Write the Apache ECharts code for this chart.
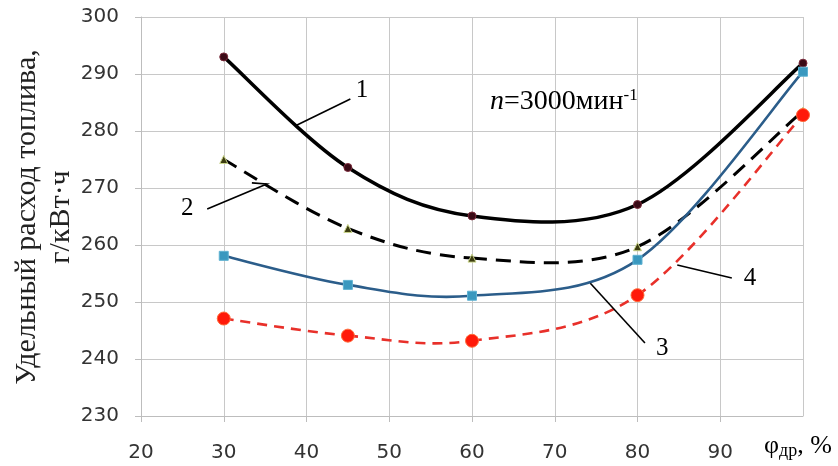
<!DOCTYPE html>
<html>
<head>
<meta charset="utf-8">
<script src="https://cdn.jsdelivr.net/npm/echarts@6/dist/echarts.min.js"></script>
<style>
  html, body { margin: 0; padding: 0; background: #fff; }
  #main { width: 838px; height: 466px; }
</style>
</head>
<body>
<div id="main"></div>
<script>
// throttle opening, %
var phi = [30, 45, 60, 80, 100];
// specific fuel consumption, g/kWh
var curve1 = [293, 273.6, 265.1, 267.1, 291.9];
var curve2 = [275, 262.9, 257.7, 259.7, 283.5];
var curve3 = [258.1, 253, 251.1, 257.4, 290.4];
var curve4 = [247.1, 244.1, 243.2, 251.2, 282.8];

var xTicks = [20, 30, 40, 50, 60, 70, 80, 90, 100];
var yTicks = [230, 240, 250, 260, 270, 280, 290, 300];

// curve labels: number, leader line (data coords), label position
var labels = [
  { text: '1', line: [[38.8, 281.0], [45.3, 285.6]], at: [46.7, 287.2] },
  { text: '2', line: [[28.0, 266.3], [35.2, 270.7], [33.4, 270.9]], at: [25.6, 266.5] },
  { text: '3', line: [[74.3, 253.3], [80.9, 242.8]], at: [83.0, 241.9] },
  { text: '4', line: [[84.8, 256.5], [91.4, 254.2]], at: [93.6, 254.2] }
];

function pairs(ys) {
  return phi.map(function (x, i) { return [x, ys[i]]; });
}

var serif = '"Liberation Serif", "Times New Roman", serif';

// smooth curve through the points (Excel-like cardinal spline),
// drawn once from the first item, using the axis scales
function smoothCurve(color, width, dash) {
  return function (params, api) {
    if (params.dataIndex !== 0) return null;
    var n = params.dataInsideLength;
    var pts = [];
    for (var i = 0; i < n; i++) {
      pts.push(api.coord([api.value(0, i), api.value(1, i)]));
    }
    var t = 1 / 6;
    var children = [];
    for (var k = 0; k < n - 1; k++) {
      var p0 = pts[Math.max(k - 1, 0)], p1 = pts[k], p2 = pts[k + 1], p3 = pts[Math.min(k + 2, n - 1)];
      children.push({
        type: 'bezierCurve',
        shape: {
          x1: p1[0], y1: p1[1], x2: p2[0], y2: p2[1],
          cpx1: p1[0] + (p2[0] - p0[0]) * t, cpy1: p1[1] + (p2[1] - p0[1]) * t,
          cpx2: p2[0] - (p3[0] - p1[0]) * t, cpy2: p2[1] - (p3[1] - p1[1]) * t
        },
        style: { stroke: color, lineWidth: width, fill: null, lineDash: dash || null }
      });
    }
    return { type: 'group', children: children };
  };
}

var axisFont = '"DejaVu Sans", sans-serif';

var chart = echarts.init(document.getElementById('main'));

var option = {
  animation: false,
  grid: { left: 141, right: 35, top: 17, bottom: 50 },
  xAxis: {
    type: 'value',
    min: xTicks[0],
    max: xTicks[xTicks.length - 1],
    interval: 10,
    axisLine: { show: true, lineStyle: { color: '#bdbdbd', width: 1 } },
    axisTick: { show: true, length: 6, lineStyle: { color: '#bdbdbd' } },
    axisLabel: { showMaxLabel: false, margin: 27, color: '#333', fontSize: 20, fontFamily: axisFont },
    splitLine: { show: true, lineStyle: { color: '#c8c8c8', width: 1 } }
  },
  yAxis: {
    type: 'value',
    min: yTicks[0],
    max: yTicks[yTicks.length - 1],
    interval: 10,
    axisLine: { show: true, lineStyle: { color: '#bdbdbd', width: 1 } },
    axisTick: { show: true, length: 6, lineStyle: { color: '#bdbdbd' } },
    axisLabel: { margin: 22, color: '#333', fontSize: 20, fontFamily: axisFont },
    splitLine: { show: true, lineStyle: { color: '#c8c8c8', width: 1 } }
  },
  series: [
    { type: 'custom', data: pairs(curve4), renderItem: smoothCurve('#e8302a', 2.6, [10, 7]), z: 2, silent: true },
    { type: 'custom', data: pairs(curve2), renderItem: smoothCurve('#000', 3, [15, 9]), z: 3, silent: true },
    { type: 'custom', data: pairs(curve1), renderItem: smoothCurve('#000', 3.5), z: 4, silent: true },
    { type: 'custom', data: pairs(curve3), renderItem: smoothCurve('#2b5d8a', 2.6), z: 5, silent: true },
    {
      name: '1', type: 'scatter', data: pairs(curve1), symbol: 'circle', symbolSize: 8,
      itemStyle: { color: '#3a0a16', borderColor: '#7a2a3a', borderWidth: 1, opacity: 1 }, z: 6
    },
    {
      name: '2', type: 'scatter', data: pairs(curve2), symbol: 'triangle', symbolSize: 8,
      itemStyle: { color: '#3c3c10', borderColor: '#c9d48a', borderWidth: 1, opacity: 1 }, z: 6
    },
    {
      name: '3', type: 'scatter', data: pairs(curve3), symbol: 'rect', symbolSize: 9,
      itemStyle: { color: '#3a98bf', borderColor: '#5fb2d2', borderWidth: 1, opacity: 1 }, z: 6
    },
    {
      name: '4', type: 'scatter', data: pairs(curve4), symbol: 'circle', symbolSize: 13,
      itemStyle: { color: '#ff1a0a', borderColor: '#ff6a3a', borderWidth: 1, opacity: 1 }, z: 6
    }
  ]
};

chart.setOption(option);

function px(p) { return chart.convertToPixel({ gridIndex: 0 }, p); }

var graphics = [];

labels.forEach(function (l) {
  graphics.push({
    type: 'polyline',
    shape: { points: l.line.map(px) },
    style: { stroke: '#000', lineWidth: 1.6, fill: null },
    z: 10
  });
  var p = px(l.at);
  graphics.push({
    type: 'text', x: p[0], y: p[1], z: 10,
    style: { text: l.text, font: '25px ' + serif, fill: '#000', align: 'center', verticalAlign: 'middle' }
  });
});

// speed note
var np = px([71.1, 285.1]);
graphics.push({
  type: 'text', x: np[0], y: np[1], z: 10,
  style: {
    text: '{i|n}{r|=3000мин}{s|-1}',
    align: 'center', verticalAlign: 'middle',
    rich: {
      i: { fontFamily: serif, fontSize: 28, fontStyle: 'italic', color: '#000', lineHeight: 30 },
      r: { fontFamily: serif, fontSize: 28, color: '#000', lineHeight: 30 },
      s: { fontFamily: serif, fontSize: 17, color: '#000', lineHeight: 30, verticalAlign: 'top' }
    }
  }
});

// x axis name
graphics.push({
  type: 'text', x: 798, y: 446, z: 10,
  style: {
    text: '{a|φ}{b|др}{a|, %}',
    align: 'center', verticalAlign: 'middle',
    rich: {
      a: { fontFamily: serif, fontSize: 26, color: '#222', lineHeight: 28 },
      b: { fontFamily: serif, fontSize: 18, color: '#222', lineHeight: 28, verticalAlign: 'bottom' }
    }
  }
});

// y axis title
graphics.push({
  type: 'text', x: 44, y: 217, rotation: Math.PI / 2, z: 10,
  style: {
    text: 'Удельный расход топлива,\nг/кВт·ч',
    font: '30px ' + serif, fill: '#222', lineHeight: 34,
    align: 'center', verticalAlign: 'middle'
  }
});

chart.setOption({ graphic: graphics });
</script>
</body>
</html>
